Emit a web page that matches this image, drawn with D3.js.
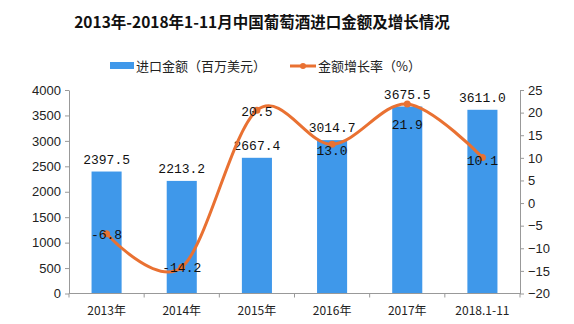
<!DOCTYPE html>
<html>
<head>
<meta charset="utf-8">
<script src="https://cdn.jsdelivr.net/npm/d3@7"></script>
<style>
  html, body { margin: 0; padding: 0; background: #fff; }
  svg { display: block; }
</style>
</head>
<body>
<svg id="chart" width="574" height="324"></svg>
<script>
// China wine import value and growth, 2013 – Jan-Nov 2018
const categories = ["2013年", "2014年", "2015年", "2016年", "2017年", "2018.1-11"];
const importValue = [2397.5, 2213.2, 2667.4, 3014.7, 3675.5, 3611.0];   // million USD
const growthRate  = [-6.8, -14.2, 20.5, 13.0, 21.9, 10.1];              // %
const leftTicks  = [0, 500, 1000, 1500, 2000, 2500, 3000, 3500, 4000];
const rightTicks = [-20, -15, -10, -5, 0, 5, 10, 15, 20, 25];

// vertical nudge of each growth label relative to its point
const rateLabelDy = [0, 0, 1, 6, 20, 3];

const W = 574, H = 324;
const m = { left: 69, right: 54, top: 90, bottom: 30 };
const svg = d3.select("#chart");

const x = d3.scaleBand().domain(categories)
  .range([m.left, W - m.right]).paddingInner(0.6).paddingOuter(0.3);
const yL = d3.scaleLinear().domain([0, 4000]).range([H - m.bottom - 0.5, m.top]);
const yR = d3.scaleLinear().domain([-20, 25]).range([H - m.bottom - 0.5, m.top]);

const barColor = "#3f98ea";
const lineColor = "#e97132";
const axisColor = "#999";
const cjk = "'Noto Sans CJK SC',sans-serif";
const mono = "'Liberation Mono','DejaVu Sans Mono',monospace";
const sans = "'Liberation Sans',Arial,sans-serif";

// title
svg.append("text")
  .attr("x", 262).attr("y", 28)
  .attr("text-anchor", "middle")
  .attr("font-family", cjk)
  .attr("font-weight", "bold")
  .attr("font-size", 15.5)
  .attr("fill", "#111")
  .text("2013年-2018年1-11月中国葡萄酒进口金额及增长情况");

// legend
const lg = svg.append("g").attr("font-family", cjk)
  .attr("font-size", 13).attr("fill", "#222");
lg.append("rect").attr("x", 110).attr("y", 62).attr("width", 24).attr("height", 7).attr("fill", barColor);
lg.append("text").attr("x", 136).attr("y", 71).text("进口金额（百万美元）");
lg.append("line").attr("x1", 290).attr("x2", 316).attr("y1", 66).attr("y2", 66)
  .attr("stroke", lineColor).attr("stroke-width", 3);
lg.append("circle").attr("cx", 303).attr("cy", 66).attr("r", 3).attr("fill", lineColor);
lg.append("text").attr("x", 318).attr("y", 71).text("金额增长率（%）");

// bars
svg.append("g").selectAll("rect").data(importValue).join("rect")
  .attr("x", (d, i) => x(categories[i]))
  .attr("width", x.bandwidth())
  .attr("y", d => yL(d))
  .attr("height", d => yL(0) - yL(d))
  .attr("fill", barColor);

// axes
function styleAxis(g) {
  g.selectAll(".domain").attr("stroke", axisColor);
  g.selectAll(".tick line").attr("stroke", axisColor);
  g.selectAll("text").attr("fill", "#222");
}
svg.append("g").attr("transform", `translate(${m.left},0)`)
  .call(d3.axisLeft(yL).tickValues(leftTicks).tickFormat(d3.format("d"))
    .tickSize(4).tickSizeOuter(0).tickPadding(4))
  .call(styleAxis)
  .selectAll("text").attr("font-family", sans).attr("font-size", 13);

svg.append("g").attr("transform", `translate(${W - m.right},0)`)
  .call(d3.axisRight(yR).tickValues(rightTicks).tickFormat(d => d < 0 ? "−" + Math.abs(d) : d)
    .tickSize(4).tickSizeOuter(0).tickPadding(4))
  .call(styleAxis)
  .selectAll("text").attr("font-family", sans).attr("font-size", 13);

// bottom axis with ticks on category boundaries
const xb = svg.append("g").attr("transform", `translate(0,${yL(0)})`);
xb.append("line").attr("x1", m.left).attr("x2", W - m.right).attr("stroke", axisColor);
const bounds = d3.range(categories.length + 1).map(i => m.left + i * (W - m.left - m.right) / categories.length);
xb.selectAll(".bt").data(bounds).join("line")
  .attr("x1", d => d).attr("x2", d => d).attr("y1", 0).attr("y2", 4).attr("stroke", axisColor);
xb.selectAll(".cl").data(categories).join("text")
  .attr("x", d => x(d) + x.bandwidth() / 2)
  .attr("y", 21)
  .attr("text-anchor", "middle")
  .attr("font-family", cjk)
  .attr("font-size", 12)
  .attr("fill", "#222")
  .text(d => d);

// bar value labels
svg.append("g").selectAll("text").data(importValue).join("text")
  .attr("x", (d, i) => x(categories[i]) + x.bandwidth() / 2)
  .attr("y", d => yL(d) - 8)
  .attr("text-anchor", "middle")
  .attr("font-family", mono)
  .attr("font-size", 13)
  .attr("fill", "#111")
  .text(d => d.toFixed(1));

// growth line, smoothed
const cx = i => x(categories[i]) + x.bandwidth() / 2;
const line = d3.line().x((d, i) => cx(i)).y(d => yR(d)).curve(d3.curveCardinal.tension(0));
svg.append("path").datum(growthRate)
  .attr("d", line)
  .attr("fill", "none")
  .attr("stroke", lineColor)
  .attr("stroke-width", 3);
svg.append("g").selectAll("circle").data(growthRate).join("circle")
  .attr("cx", (d, i) => cx(i)).attr("cy", d => yR(d)).attr("r", 3.5).attr("fill", lineColor);

// growth value labels
svg.append("g").selectAll("text").data(growthRate).join("text")
  .attr("x", (d, i) => cx(i))
  .attr("y", (d, i) => yR(d) + rateLabelDy[i] + 5)
  .attr("text-anchor", "middle")
  .attr("font-family", mono)
  .attr("font-size", 13)
  .attr("fill", "#111")
  .text(d => d.toFixed(1));
</script>
</body>
</html>
